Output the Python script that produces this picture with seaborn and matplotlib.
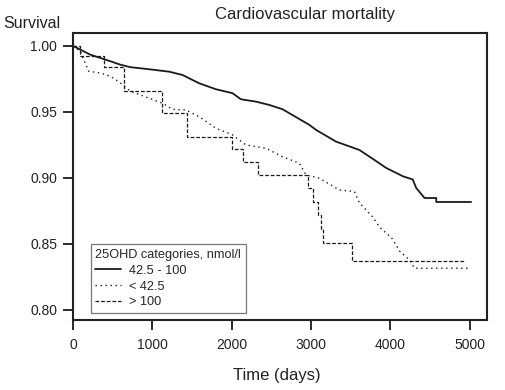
import matplotlib
matplotlib.use("Agg")
import matplotlib.pyplot as plt
import seaborn as sns
import pandas as pd

# ---- data ----
mid_x = [0, 92, 218, 345, 471, 597, 723, 893, 1061, 1212, 1380, 1591, 1802, 2011,
         2117, 2307, 2475, 2643, 2980, 3064, 3317, 3611, 3801, 3948, 4158, 4284,
         4327, 4432, 4580, 4580, 5020]
mid_y = [1.0, 0.9972, 0.9934, 0.9909, 0.9884, 0.9858, 0.9839, 0.9828, 0.9816, 0.9805,
         0.9780, 0.9717, 0.9672, 0.9642, 0.9596, 0.9578, 0.9553, 0.9520, 0.9402,
         0.9364, 0.9275, 0.9212, 0.9136, 0.9076, 0.9013, 0.8988, 0.8924, 0.8848,
         0.8848, 0.8818, 0.8818]

low_x = [0, 92, 135, 198, 345, 471, 597, 723, 960, 1128, 1254, 1423, 1591, 1802,
         2011, 2180, 2433, 2639, 2854, 2938, 3106, 3359, 3548, 3611, 3775, 3864,
         4028, 4116, 4242, 4306, 5000]
low_y = [1.0, 0.9960, 0.9896, 0.9808, 0.9795, 0.9770, 0.9720, 0.9657, 0.9604,
         0.9566, 0.9520, 0.9515, 0.9464, 0.9376, 0.9326, 0.9250, 0.9225, 0.9161,
         0.9111, 0.9023, 0.8998, 0.8909, 0.8897, 0.8811, 0.8707, 0.8629, 0.8538,
         0.8447, 0.8379, 0.8316, 0.8316]

high_x = [0, 92, 395, 640, 1120, 1443, 2004, 2143, 2327, 2958, 3030, 3093, 3128,
          3148, 3514, 4928]
high_y = [1.0, 0.9922, 0.9839, 0.9659, 0.9490, 0.9313, 0.9220, 0.9123, 0.9023,
          0.8922, 0.8820, 0.8720, 0.8611, 0.8505, 0.8371, 0.8371]

labels = ["42.5 - 100", "< 42.5", "> 100"]
legend_title = "25OHD categories, nmol/l"
x_ticks = [0, 1000, 2000, 3000, 4000, 5000]
y_ticks = [0.80, 0.85, 0.90, 0.95, 1.00]

# ---- plotting ----
sns.set_style("ticks")
plt.rcParams["font.family"] = ["Liberation Sans", "DejaVu Sans"]

fig = plt.figure(figsize=(5.06, 3.90), dpi=100)
ax = fig.add_axes([0.1443, 0.1795, 0.9625 - 0.1443, 0.9154 - 0.1795])

df_mid = pd.DataFrame({"t": mid_x, "s": mid_y})
df_low = pd.DataFrame({"t": low_x, "s": low_y})
df_high = pd.DataFrame({"t": high_x, "s": high_y})

ink = "#1a1a1a"
sns.lineplot(data=df_mid, x="t", y="s", ax=ax, estimator=None, sort=False,
             color=ink, linewidth=1.3, label=labels[0])
sns.lineplot(data=df_low, x="t", y="s", ax=ax, estimator=None, sort=False,
             color=ink, linewidth=1.0, linestyle=(0, (1, 2.6)), label=labels[1])
sns.lineplot(data=df_high, x="t", y="s", ax=ax, estimator=None, sort=False,
             color=ink, linewidth=0.9, linestyle=(0, (3, 1.5)),
             drawstyle="steps-post", label=labels[2])

ax.set_xlim(0, 5220)
ax.set_ylim(0.7924, 1.0098)
ax.set_xticks(x_ticks)
ax.set_xticklabels([str(v) for v in x_ticks])
ax.set_yticks(y_ticks)
ax.set_yticklabels([f"{v:.2f}" for v in y_ticks])
ax.tick_params(axis="both", direction="out", length=7, width=1.3, color=ink,
               labelsize=10, labelcolor="#222222")
ax.tick_params(axis="y", pad=4.5)
ax.tick_params(axis="x", pad=6)
for sp in ax.spines.values():
    sp.set_visible(True)
    sp.set_linewidth(1.5)
    sp.set_color("#222222")

ax.set_xlabel("Time (days)", fontsize=12, color="#222222")
ax.xaxis.set_label_coords(0.4915, -0.168)
ax.set_ylabel("")
fig.text(305 / 506, 1 - 19 / 390, "Cardiovascular mortality", fontsize=12,
         color="#222222", ha="center", va="baseline")
fig.text(0.006, 1 - 28 / 390, "Survival", fontsize=11.5, color="#222222",
         ha="left", va="baseline")

leg = ax.legend(title=legend_title, loc="lower left",
                bbox_to_anchor=(0.043, 0.025), borderaxespad=0,
                fontsize=9.2, title_fontsize=9.2, frameon=True, fancybox=False,
                framealpha=1, edgecolor="#777777", handlelength=2.0,
                handletextpad=0.6, labelspacing=0.3, borderpad=0.35,
                alignment="left")
leg.get_frame().set_linewidth(0.9)

fig.savefig("out.png", dpi=100)
